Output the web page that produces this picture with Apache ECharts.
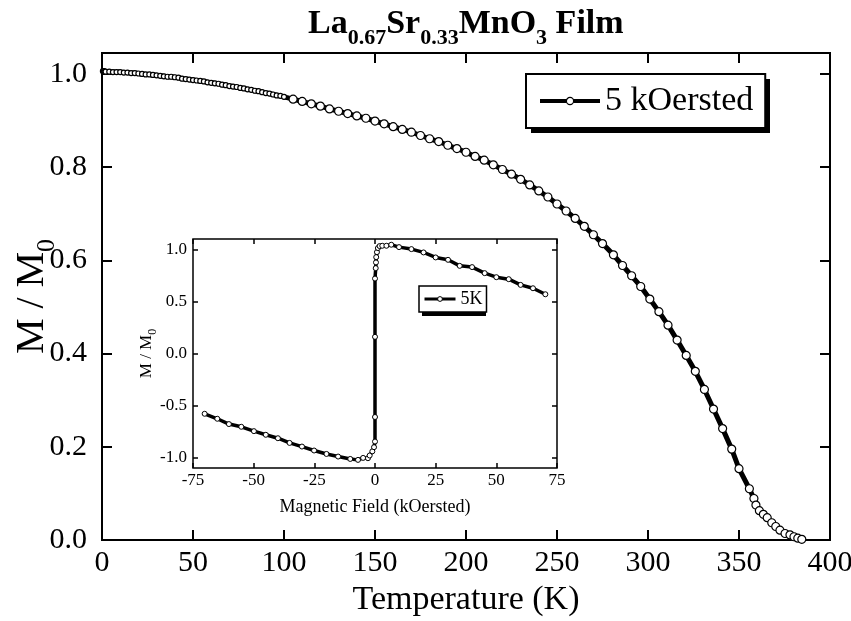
<!DOCTYPE html>
<html>
<head>
<meta charset="utf-8">
<script src="https://cdn.jsdelivr.net/npm/echarts@6/dist/echarts.min.js"></script>
<style>html,body{margin:0;padding:0;background:#fff}#c{width:851px;height:621px}</style>
</head>
<body>
<div id="c"></div>
<script>
// Main curve: temperature (K) and normalized magnetization
const tempK = [0.5,1,1.5,2,4,6,8,10,12,14,16,18,20,22,24,26,28,30,32,34,36,38,40,42,44,46,48,50,52,54,56,58,60,62,64,66,68,70,72,74,76,78,80,82,84,86,88,90,92,94,96,98,100,
  105,110,115,120,125,130,135,140,145,150,155,160,165,170,175,180,185,190,195,200,205,210,215,220,225,230,235,240,245,250,255,260,265,270,275,
  281,286,291,296,301,306,311,316,321,326,331,336,341,346,350,355.7,358.2,359.3,361.2,363.4,365.5,368,370.2,372.5,375.3,378,380.2,382.3,384.5];
const mNorm = [1.006,1.006,1.005,1.005,1.005,1.004,1.004,1.004,1.003,1.003,1.002,1.002,1.001,1.000,0.999,0.999,0.998,0.997,0.996,0.995,0.994,0.994,0.993,0.992,0.990,0.989,0.988,0.987,0.986,0.985,0.984,0.982,0.981,0.980,0.979,0.977,0.976,0.974,0.973,0.972,0.970,0.969,0.967,0.966,0.964,0.963,0.961,0.959,0.958,0.956,0.954,0.953,0.951,
  0.946,0.941,0.936,0.931,0.925,0.920,0.915,0.910,0.905,0.899,0.893,0.887,0.881,0.875,0.868,0.861,0.855,0.847,0.840,0.832,0.823,0.815,0.805,0.795,0.785,0.774,0.762,0.749,0.736,0.721,0.706,0.690,0.673,0.655,0.636,
  0.612,0.589,0.567,0.544,0.517,0.490,0.461,0.429,0.396,0.362,0.323,0.281,0.239,0.195,0.153,0.110,0.089,0.075,0.063,0.055,0.048,0.037,0.029,0.021,0.014,0.011,0.007,0.004,0.0015];

// Inset: magnetic field (kOe) and M/M0 at 5 K
const fieldKOe = [-70.2,-65,-60.2,-55.1,-49.9,-45,-40,-35.2,-30.1,-25.1,-20,-15.2,-10.2,-7,-4.9,-2.9,-2.2,-1.1,-0.4,0,0,0,0,0.3,0.4,0.5,0.8,1.2,1.9,3,4.7,6.7,9.9,15,20,25,30.1,34.9,40,45.2,50,55.1,60,65.1,70.2];
const mInset = [-0.579,-0.627,-0.678,-0.704,-0.746,-0.781,-0.814,-0.859,-0.894,-0.932,-0.965,-0.990,-1.013,-1.022,-1.003,-1.006,-0.98,-0.94,-0.90,-0.846,-0.61,0.16,0.72,0.82,0.875,0.926,0.974,1.013,1.032,1.035,1.035,1.045,1.022,1.003,0.971,0.923,0.900,0.842,0.830,0.772,0.733,0.714,0.659,0.627,0.569];

const mainYTicks = [0, 0.2, 0.4, 0.6, 0.8, 1.0];
const insetYTicks = [-1.0, -0.5, 0, 0.5, 1.0];

const FF = 'Liberation Serif';
const chart = echarts.init(document.getElementById('c'), null, {renderer: 'canvas'});

const mainTick = {show: true, inside: true, length: 10, lineStyle: {color: '#000', width: 2}};
const insetTick = {show: true, inside: true, length: 5, lineStyle: {color: '#000', width: 1.5}};
const noLine = {show: false, onZero: false};

chart.setOption({
  animation: false,
  backgroundColor: '#fff',
  title: {
    left: 303, top: 2,
    text: '{m|La}{s|0.67}{m|Sr}{s|0.33}{m|MnO}{s|3}{m| Film}',
    textStyle: {
      rich: {
        m: {fontFamily: FF, fontSize: 34, fontWeight: 'bold', color: '#000', lineHeight: 34, verticalAlign: 'top'},
        s: {fontFamily: FF, fontSize: 22, fontWeight: 'bold', color: '#000', lineHeight: 22, verticalAlign: 'top', padding: [20, 0, 0, 0]}
      }
    }
  },
  graphic: [
    {type: 'rect', z: 1, shape: {x: 531, y: 79, width: 239, height: 54}, style: {fill: '#000'}},
    {type: 'rect', z: 1, shape: {x: 422, y: 289, width: 64, height: 27}, style: {fill: '#000'}}
  ],
  legend: [
    {
      data: ['5 kOersted'], left: 526, top: 74, orient: 'vertical', z: 5,
      padding: [10, 12, 10, 12], itemWidth: 60, itemHeight: 9,
      backgroundColor: '#fff', borderColor: '#000', borderWidth: 2,
      textStyle: {fontFamily: FF, fontSize: 34, color: '#000'},
      itemStyle: {color: '#fff', borderColor: '#000', borderWidth: 1.2},
      lineStyle: {color: '#000', width: 4}
    },
    {
      data: ['5K'], left: 419, top: 286, orient: 'vertical', z: 5,
      padding: [4, 4, 4, 4], itemWidth: 31, itemHeight: 6,
      backgroundColor: '#fff', borderColor: '#000', borderWidth: 1.5,
      textStyle: {fontFamily: FF, fontSize: 18, color: '#000'},
      itemStyle: {color: '#fff', borderColor: '#000', borderWidth: 1},
      lineStyle: {color: '#000', width: 3}
    }
  ],
  grid: [
    {left: 102, top: 53, width: 728, height: 487, show: true, borderColor: '#000', borderWidth: 2, backgroundColor: 'transparent', outerBoundsMode: 'none', containLabel: false},
    {left: 193, top: 239, width: 364, height: 229, show: true, borderColor: '#000', borderWidth: 1.5, backgroundColor: '#fff', outerBoundsMode: 'none', containLabel: false}
  ],
  xAxis: [
    {gridIndex: 0, type: 'value', min: 0, max: 400, interval: 50, position: 'bottom',
      axisLine: noLine, axisTick: mainTick, splitLine: {show: false},
      axisLabel: {fontFamily: FF, fontSize: 30, color: '#000', margin: 8},
      name: 'Temperature (K)', nameLocation: 'middle', nameGap: 43, nameMoveOverlap: false,
      nameTextStyle: {fontFamily: FF, fontSize: 34, color: '#000'}},
    {gridIndex: 0, type: 'value', min: 0, max: 400, interval: 50, position: 'top',
      axisLine: noLine, axisTick: mainTick, splitLine: {show: false}, axisLabel: {show: false}},
    {gridIndex: 1, type: 'value', min: -75, max: 75, interval: 25, position: 'bottom',
      axisLine: noLine, axisTick: insetTick, splitLine: {show: false},
      axisLabel: {fontFamily: FF, fontSize: 17, color: '#000', margin: 4},
      name: 'Magnetic Field (kOersted)', nameLocation: 'middle', nameGap: 30, nameMoveOverlap: false,
      nameTextStyle: {fontFamily: FF, fontSize: 18, color: '#000'}},
    {gridIndex: 1, type: 'value', min: -75, max: 75, interval: 25, position: 'top',
      axisLine: noLine, axisTick: insetTick, splitLine: {show: false}, axisLabel: {show: false}}
  ],
  yAxis: [
    {gridIndex: 0, type: 'value', min: 0, max: 1.045, position: 'left',
      axisLine: noLine, splitLine: {show: false},
      axisTick: Object.assign({customValues: mainYTicks}, mainTick),
      axisLabel: {customValues: mainYTicks, fontFamily: FF, fontSize: 30, color: '#000', margin: 15,
        formatter: v => v.toFixed(1)},
      name: '{a|M / M}{b|0}', nameLocation: 'middle', nameGap: 50, nameMoveOverlap: false,
      nameTextStyle: {rich: {
        a: {fontFamily: FF, fontSize: 40, color: '#000', lineHeight: 40, verticalAlign: 'top'},
        b: {fontFamily: FF, fontSize: 26, color: '#000', lineHeight: 26, verticalAlign: 'top', padding: [22, 0, 0, 0]}
      }}},
    {gridIndex: 0, type: 'value', min: 0, max: 1.045, position: 'right',
      axisLine: noLine, splitLine: {show: false},
      axisTick: Object.assign({customValues: mainYTicks}, mainTick), axisLabel: {show: false, customValues: mainYTicks}},
    {gridIndex: 1, type: 'value', min: -1.1, max: 1.1, position: 'left',
      axisLine: noLine, splitLine: {show: false},
      axisTick: Object.assign({customValues: insetYTicks}, insetTick),
      axisLabel: {customValues: insetYTicks, fontFamily: FF, fontSize: 17, color: '#000', margin: 6,
        formatter: v => v.toFixed(1)},
      name: '{a|M / M}{b|0}', nameLocation: 'middle', nameGap: 38, nameMoveOverlap: false,
      nameTextStyle: {rich: {
        a: {fontFamily: FF, fontSize: 17, color: '#000', lineHeight: 17, verticalAlign: 'top'},
        b: {fontFamily: FF, fontSize: 12, color: '#000', lineHeight: 12, verticalAlign: 'top', padding: [9, 0, 0, 0]}
      }}},
    {gridIndex: 1, type: 'value', min: -1.1, max: 1.1, position: 'right',
      axisLine: noLine, splitLine: {show: false},
      axisTick: Object.assign({customValues: insetYTicks}, insetTick), axisLabel: {show: false, customValues: insetYTicks}}
  ],
  series: [
    {
      name: '5 kOersted', type: 'line', xAxisIndex: 0, yAxisIndex: 0,
      data: tempK.map((t, i) => [t, mNorm[i]]),
      symbol: 'circle', symbolSize: v => (v[0] <= 100 ? 5 : 8), showAllSymbol: true,
      lineStyle: {color: '#000', width: 5},
      itemStyle: {color: '#fff', borderColor: '#000', borderWidth: 1.2},
      emphasis: {disabled: true}
    },
    {
      name: '5K', type: 'line', xAxisIndex: 2, yAxisIndex: 2,
      data: fieldKOe.map((h, i) => [h, mInset[i]]),
      symbol: 'circle', symbolSize: 5, showAllSymbol: true,
      lineStyle: {color: '#000', width: 3.5},
      itemStyle: {color: '#fff', borderColor: '#000', borderWidth: 1},
      emphasis: {disabled: true}
    }
  ]
});
</script>
</body>
</html>
